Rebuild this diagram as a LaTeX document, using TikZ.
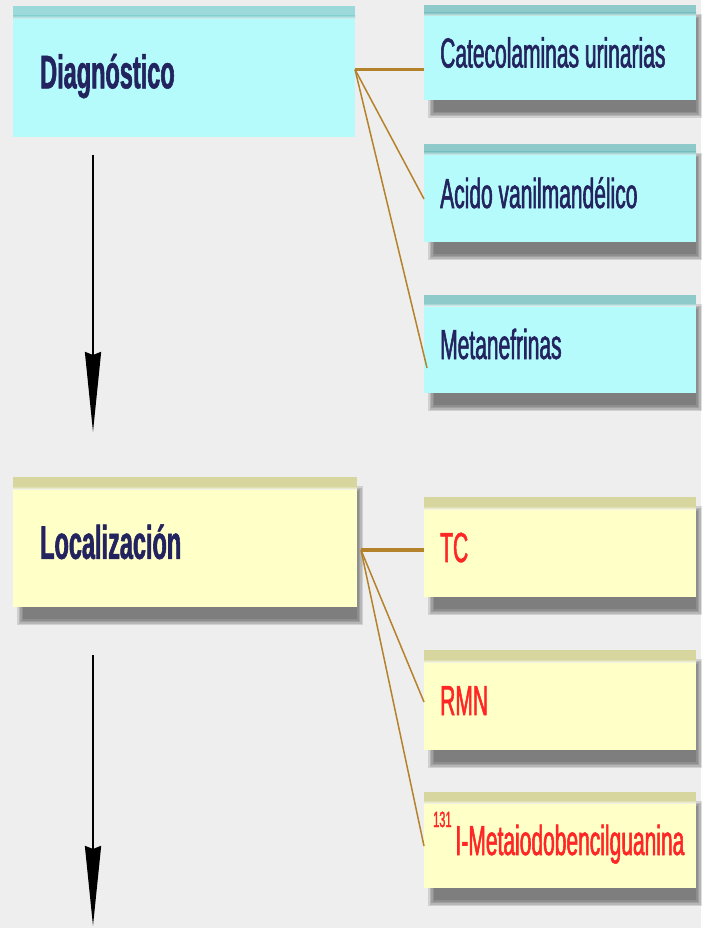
\documentclass[tikz,border=0pt]{standalone}
\usepackage{fontspec}
\newfontfamily\nfontb{Liberation Sans}[FakeStretch=0.5, FakeBold=1.3]
\newfontfamily\nfonth{Liberation Sans}[FakeStretch=0.5, FakeBold=1.2]
\usetikzlibrary{calc,arrows.meta}
\definecolor{bgc}{HTML}{EEEEEE}
\definecolor{cfill}{HTML}{B6FBFB}
\definecolor{cband}{HTML}{8FCACB}
\definecolor{yfill}{HTML}{FFFFC8}
\definecolor{yband}{HTML}{D6D69E}
\definecolor{navy}{HTML}{23235F}
\definecolor{redt}{HTML}{FF2626}
\definecolor{conn}{HTML}{B5822C}
\definecolor{shadowc}{HTML}{282828}
\pgfdeclarelayer{bg}
\pgfsetlayers{bg,main}
\tikzset{
  boxnode/.style={rectangle, inner sep=0pt, outer sep=0pt},
  cbox/.style={boxnode, fill=cfill},
  ybox/.style={boxnode, fill=yfill},
  lbl/.style={font=\nfonth\bfseries\fontsize{47}{50}\selectfont, text=navy, anchor=base west, inner sep=0pt},
  itm/.style={font=\nfontb\fontsize{42}{45}\selectfont, text=navy, anchor=base west, inner sep=0pt},
  itmred/.style={itm, text=redt},
  conthick/.style={draw=conn, line width=3.6pt},
  conthin/.style={draw=conn, line width=1.5pt},
  arr/.style={draw=black, line width=2.2pt, -{Stealth[length=80pt,width=16pt,inset=3pt]}}
}
\newcommand\boxshadow[1]{%
  \begin{pgfonlayer}{bg}
  \foreach \s in {0,1.5,3,4.5,6}{
    \fill[shadowc, opacity=0.15] ($(#1.south west)+(4+\s,-18+\s)$) rectangle ($(#1.north east)+(6-\s,-9-\s)$);
  }
  \end{pgfonlayer}}
\newcommand\boxband[3]{%
  \fill[#2] (#1.north west) rectangle ($(#1.north east)+(0,-#3)$);
  \shade[top color=#2, bottom color=#2!30!white] ($(#1.north west)+(0,-#3)$) rectangle ($(#1.north east)+(0,-#3-3)$);}
\begin{document}
\begin{tikzpicture}[x=1pt,y=1pt]
\begin{pgfonlayer}{bg}
\fill[bgc] (0,0) rectangle (701,-928);
\end{pgfonlayer}
\useasboundingbox (0,0) rectangle (701,-928);

% left boxes
\node[cbox, minimum width=342pt, minimum height=131pt] (diag) at (184,-71.5) {};
\node[ybox, minimum width=344pt, minimum height=130pt] (loc) at (185,-542) {};
% right boxes
\node[cbox, minimum width=272pt, minimum height=95pt] (c1) at (560,-52.5) {};
\node[cbox, minimum width=272pt, minimum height=98pt] (c2) at (560,-193) {};
\node[cbox, minimum width=272pt, minimum height=98pt] (c3) at (560,-344) {};
\node[ybox, minimum width=272pt, minimum height=100pt] (y1) at (560,-547) {};
\node[ybox, minimum width=272pt, minimum height=100pt] (y2) at (560,-700) {};
\node[ybox, minimum width=272pt, minimum height=96pt] (y3) at (560,-840) {};

\boxshadow{loc}
\boxshadow{c1}\boxshadow{c2}\boxshadow{c3}
\boxshadow{y1}\boxshadow{y2}\boxshadow{y3}

\boxband{diag}{cfill!30!cband}{10}
\boxband{loc}{yband}{9}
\boxband{c1}{cband}{8}
\boxband{c2}{cband}{8}
\boxband{c3}{cband}{8}
\boxband{y1}{yband}{9}
\boxband{y2}{yband}{9}
\boxband{y3}{yband}{8}

% texts
\node[lbl] (tdiag) at ($(diag.west)+(27,-16.8)$) {Diagnóstico};
\node[lbl] (tloc) at ($(loc.west)+(27,-16.8)$) {Localización};
\node[itm] (tc1) at ($(c1.west)+(16,-15)$) {Catecolaminas urinarias};
\node[itm] (tc2) at ($(c2.west)+(16,-15)$) {Acido vanilmandélico};
\node[itm] (tc3) at ($(c3.west)+(16,-15)$) {Metanefrinas};
\node[itmred] (ty1) at ($(y1.west)+(16,-15)$) {TC};
\node[itmred] (ty2) at ($(y2.west)+(16,-15)$) {RMN};
\node[itmred] (ty3) at ($(y3.west)+(9,-15)$) {\raisebox{28pt}{\fontsize{22}{22}\selectfont 131}\kern4pt I-Metaiodobencilguanina};

% connectors
\coordinate (dO) at ($(diag.east)+(0,2)$);
\draw[conthick] (dO) -- (dO -| c1.west);
\draw[conthin] (dO) -- ($(c2.west)+(0,-6)$);
\draw[conthin] (dO) -- ($(c3.west)+(3,-24)$);
\coordinate (lO) at ($(loc.east)+(4,-8)$);
\draw[conthick] (lO) -- (lO -| y1.west);
\draw[conthin] (lO) -- ($(y2.west)+(0,-2)$);
\draw[conthin] (lO) -- ($(y3.west)+(0,-6)$);

% arrows
\coordinate (a1s) at (93,-155);
\coordinate (a1e) at (93,-432);
\coordinate (a2s) at (93,-655);
\coordinate (a2e) at (93,-926);
\draw[arr] (a1s) -- (a1e);
\draw[arr] (a2s) -- (a2e);
\end{tikzpicture}
\end{document}
